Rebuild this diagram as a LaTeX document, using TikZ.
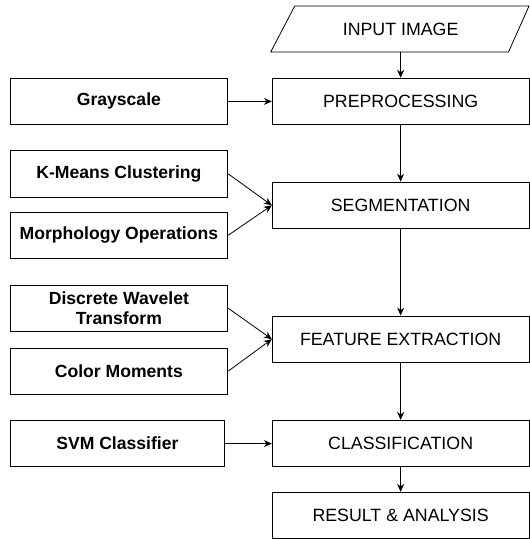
\documentclass[tikz,border=0pt]{standalone}
\usepackage{fontspec}
\setmainfont{Liberation Sans}
\usetikzlibrary{arrows.meta}

\tikzset{
  stage/.style={draw, line width=0.8, minimum width=257, minimum height=46.5, inner sep=0,
    font=\fontsize{17.8}{21}\selectfont},
  method/.style={draw, line width=0.8, minimum width=218, minimum height=46.5, inner sep=0,
    align=center, font=\bfseries\fontsize{17.6}{20.5}\selectfont},
  flow/.style={-{Stealth[length=8,width=7]}, line width=0.8}
}

\begin{document}
\begin{tikzpicture}[x=1pt,y=1pt,yscale=-1,xscale=1]
\useasboundingbox (0,0) rectangle (530,539.5);

% input parallelogram
\draw [line width=0.8] (295,6) -- (529.5,6) -- (509,52) -- (271,52) -- cycle ;
\node (input) at (401,29) [font=\fontsize{17.8}{21}\selectfont] {INPUT IMAGE};
\coordinate (inbot) at (401,52);

% main stages
\node [stage] (pre) at (401,101.5) {PREPROCESSING};
\node [stage] (seg) at (401,205.5) {SEGMENTATION};
\node [stage] (feat) at (401,339.5) {FEATURE EXTRACTION};
\node [stage] (cls) at (401,444) {CLASSIFICATION};
\node [stage] (res) at (401,516) {RESULT \& ANALYSIS};

% methods on the left
\node [method] (gray) at (119,101.5) {Grayscale};
\node [method] (kmeans) at (119,174) {K-Means Clustering};
\node [method] (morph) at (119,235.5) {Morphology Operations};
\node [method] (dwt) at (119,308.5) {Discrete Wavelet\\Transform};
\node [method] (color) at (119,371.5) {Color Moments};
\node [method, minimum width=215] (svm) at (117.5,444) {SVM Classifier};

% flow down the stages
\draw [flow] (inbot) -- (pre);
\draw [flow] (pre) -- (seg);
\draw [flow] (seg) -- (feat);
\draw [flow] (feat) -- (cls);
\draw [flow] (cls) -- (res);

% methods into stages
\draw [flow] (gray) -- (pre);
\draw [flow] (kmeans.east) -- (seg.west);
\draw [flow] (morph.east) -- (seg.west);
\draw [flow] (dwt.east) -- (feat.west);
\draw [flow] (color.east) -- (feat.west);
\draw [flow] (svm) -- (cls);
\end{tikzpicture}
\end{document}
